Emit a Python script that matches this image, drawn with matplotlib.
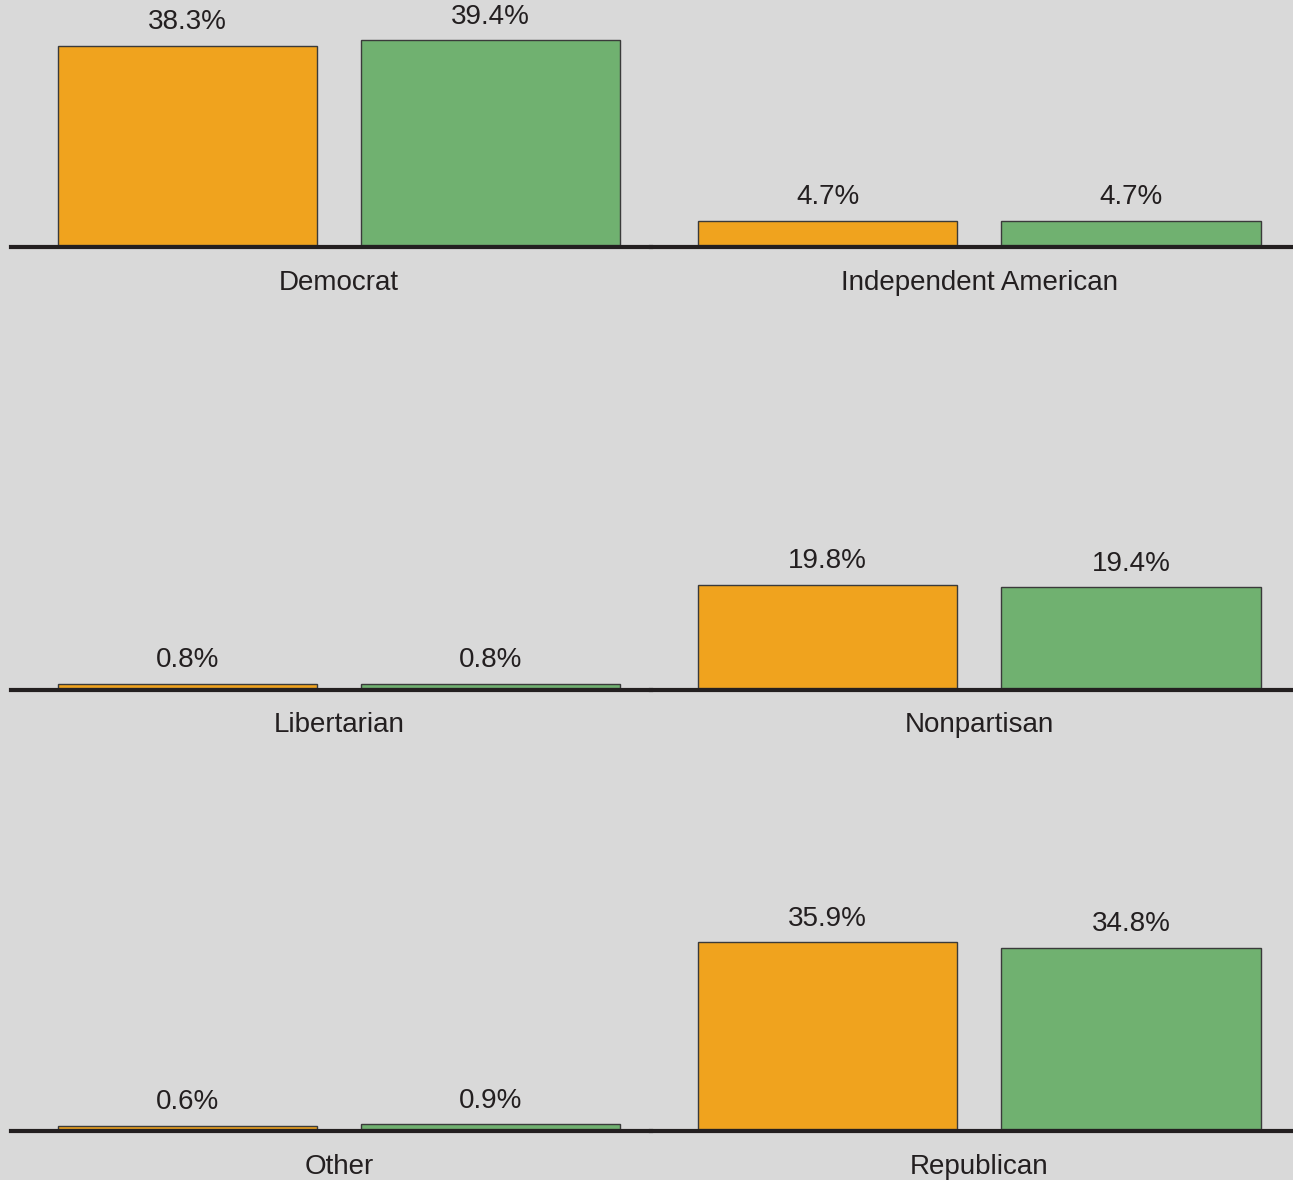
import numpy as np
import matplotlib
matplotlib.use("Agg")
import matplotlib.pyplot as plt

# =========================
# Data
# =========================
categories = ['Democrat', 'Independent American', 'Libertarian',
              'Nonpartisan', 'Other', 'Republican']
series_a = [38.3, 4.7, 0.8, 19.8, 0.6, 35.9]
series_b = [39.4, 4.7, 0.8, 19.4, 0.9, 34.8]

# =========================
# Style
# =========================
bg = '#d9d9d9'
c_a = '#f0a31e'
c_b = '#70b170'
edge = '#3a3a3a'
plt.rcParams['font.family'] = ['Liberation Sans', 'DejaVu Sans']

W, H = 1293, 1180
fig = plt.figure(figsize=(W / 100, H / 100), dpi=100, facecolor=bg)

baselines = [245, 688, 1129]
col_x = [(11, 651), (651, 1292)]
scale = 5.2  # px per percent
ymax = 45
ax_h = ymax * scale

xlim = (-0.5825, 1.53)

for i, cat in enumerate(categories):
    row, col = divmod(i, 2)
    b = baselines[row]
    x0, x1 = col_x[col]
    ax = fig.add_axes([x0 / W, (H - b) / H, (x1 - x0) / W, ax_h / H])
    ax.set_facecolor(bg)
    ax.patch.set_alpha(0)

    vals = [series_a[i], series_b[i]]
    ax.bar([0, 1], vals, width=0.855, color=[c_a, c_b],
           edgecolor=edge, linewidth=1, zorder=4)
    for x, v in zip([0, 1], vals):
        ax.annotate(f'{v}%', xy=(x, v), xytext=(0, 17), textcoords='offset points',
                    ha='center', va='center', fontsize=20, color='#231f20')

    ax.set_xlim(*xlim)
    ax.set_ylim(0, ymax)
    for s in ['top', 'right', 'left']:
        ax.spines[s].set_visible(False)
    ax.spines['bottom'].set_linewidth(3)
    ax.spines['bottom'].set_color('#231f20')
    ax.spines['bottom'].set_position(('outward', 1.5))
    ax.spines['bottom'].set_zorder(2)
    ax.set_xticks([])
    ax.set_yticks([])

    ax.annotate(cat, xy=(0.5, 0), xycoords=('data', 'axes fraction'),
                xytext=(0, -27), textcoords='offset points',
                ha='center', va='center', fontsize=20, color='#231f20',
                annotation_clip=False)

plt.savefig('out.png', dpi=100, facecolor=bg)
